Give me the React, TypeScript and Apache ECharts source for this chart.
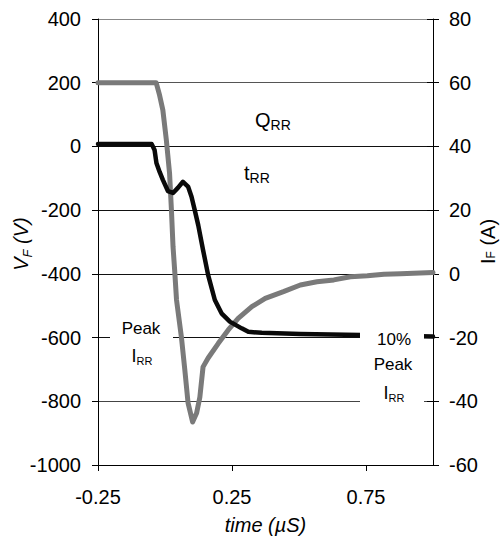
import React, { useEffect, useRef } from 'react';
import * as echarts from 'echarts';

const FONT = '"Liberation Sans", Arial, Helvetica, sans-serif';

// Voltage trace V_F (V) vs time (µS)
const timeV = [-0.25, -0.05, -0.039, -0.032, -0.02, -0.008, 0.011, 0.03, 0.048, 0.067, 0.086, 0.099, 0.111, 0.124, 0.142, 0.161, 0.186, 0.211, 0.242, 0.286, 0.311, 0.361, 0.505, 0.73, 1.0];
const voltage = [8, 8, -11, -52, -80, -105, -140, -146, -130, -111, -126, -158, -200, -247, -325, -404, -482, -524, -550, -571, -582, -585, -589, -592, -597];

// Current trace I_F (A) vs time (µS)
const timeI = [-0.25, -0.033, -0.02, -0.008, 0.005, 0.017, 0.024, 0.03, 0.036, 0.043, 0.061, 0.074, 0.086, 0.103, 0.118, 0.13, 0.142, 0.161, 0.199, 0.236, 0.273, 0.324, 0.374, 0.442, 0.505, 0.567, 0.63, 0.692, 0.755, 0.817, 0.879, 1.0];
const current = [60, 60, 56, 51.4, 42, 31.6, 20, 8.5, 1.2, -8.2, -19.7, -30.2, -40.5, -46.5, -43.7, -38.7, -29.2, -26.4, -21.8, -17.6, -14, -10.3, -7.7, -5.6, -3.5, -2.5, -1.9, -0.9, -0.6, -0.1, 0, 0.4];

// Axis ticks
const xTicks = [-0.25, 0.25, 0.75];
const xRange = [-0.25, 1.0];
const vRange = [-1000, 400];
const vStep = 200;
const iRange = [-60, 80];
const iStep = 20;

export default function App() {
  const ref = useRef<HTMLDivElement>(null);

  useEffect(() => {
    if (!ref.current) return;
    const chart = echarts.init(ref.current, null, { renderer: 'svg' });
    const ctx = document.createElement('canvas').getContext('2d') as CanvasRenderingContext2D;
    const measure = (t: string, size: number, italic = false) => {
      ctx.font = `${italic ? 'italic ' : ''}${size}px ${FONT}`;
      return ctx.measureText(t).width;
    };

    const txt = (text: string, x: number, y: number, size: number, italic = false, align = 'left') => ({
      type: 'text',
      x,
      y,
      z: 101,
      zlevel: 0,
      style: {
        text,
        fontSize: size,
        fontFamily: FONT,
        fontStyle: italic ? 'italic' : 'normal',
        fill: '#000',
        align,
        verticalAlign: 'middle',
        textAlign: align,
        textVerticalAlign: 'middle',
      },
    });

    const subLabel = (
      main: string, sub: string, rest: string, cx: number, cy: number,
      mainSize: number, subSize: number, subDy: number, italic: boolean, rotated: boolean
    ) => {
      const w1 = measure(main, mainSize, italic);
      const w2 = measure(sub, subSize, italic);
      const w3 = rest ? measure(rest, mainSize, italic) : 0;
      const start = -(w1 + w2 + w3) / 2;
      const children: any[] = [
        txt(main, start, 0, mainSize, italic),
        txt(sub, start + w1, subDy, subSize, italic),
      ];
      if (rest) children.push(txt(rest, start + w1 + w2, 0, mainSize, italic));
      return { type: 'group', x: cx, y: cy, rotation: rotated ? Math.PI / 2 : 0, z: 101, children };
    };

    const vData = timeV.map((t, i) => [t, voltage[i]]);
    const iData = timeI.map((t, i) => [t, current[i]]);

    const gridRect = { left: 98, right: 67, top: 19, bottom: 83 };

    const option: any = {
      animation: false,
      backgroundColor: '#ffffff',
      textStyle: { fontFamily: FONT },
      grid: [
        { ...gridRect },
        { ...gridRect },
      ],
      xAxis: [
        {
          type: 'value',
          gridIndex: 0,
          min: xRange[0],
          max: xRange[1],
          interval: 0.5,
          axisLine: { show: true, onZero: false, lineStyle: { color: '#000', width: 1 } },
          axisTick: { show: true, inside: false, length: 6, customValues: xTicks, lineStyle: { color: '#000' } },
          axisLabel: {
            customValues: xTicks,
            fontSize: 20,
            color: '#000',
            margin: 22,
            formatter: (v: number) => (v > 0.9 ? '' : v.toFixed(2)),
          },
          splitLine: { show: false },
        },
        { type: 'value', gridIndex: 1, min: xRange[0], max: xRange[1], show: false },
      ],
      yAxis: [
        {
          type: 'value',
          gridIndex: 0,
          position: 'left',
          min: vRange[0],
          max: vRange[1],
          interval: vStep,
          axisLine: { show: true, onZero: false, lineStyle: { color: '#000', width: 1 } },
          axisTick: { show: true, inside: false, length: 6, lineStyle: { color: '#000' } },
          axisLabel: { fontSize: 20, color: '#000', margin: 17, formatter: (v: number) => String(v) },
          splitLine: {
            show: true,
            lineStyle: { color: ['#000', '#444', '#111', '#111', '#111', '#111', '#555', '#888'], width: 1 },
          },
        },
        {
          type: 'value',
          gridIndex: 0,
          position: 'right',
          min: iRange[0],
          max: iRange[1],
          interval: iStep,
          axisLine: { show: true, onZero: false, lineStyle: { color: '#000', width: 1 } },
          axisTick: { show: true, inside: false, length: 6, lineStyle: { color: '#000' } },
          axisLabel: { fontSize: 20, color: '#000', margin: 16, formatter: (v: number) => String(v) },
          splitLine: { show: false },
        },
        {
          type: 'value',
          gridIndex: 1,
          position: 'right',
          min: iRange[0],
          max: iRange[1],
          interval: iStep,
          axisLine: { show: false, onZero: false },
          axisTick: { show: true, inside: true, length: 6, lineStyle: { color: '#000' } },
          axisLabel: { show: false },
          splitLine: { show: false },
        },
      ],
      series: [
        {
          name: 'I_F',
          type: 'line',
          xAxisIndex: 0,
          yAxisIndex: 1,
          data: iData,
          symbol: 'none',
          lineStyle: { color: '#7a7a7a', width: 5, cap: 'round', join: 'round' },
          z: 3,
        },
        {
          name: 'V_F',
          type: 'line',
          xAxisIndex: 0,
          yAxisIndex: 0,
          data: vData,
          symbol: 'none',
          lineStyle: { color: '#0a0a0a', width: 4.5, cap: 'round', join: 'round' },
          z: 4,
        },
      ],
      graphic: {
        elements: [
          { type: 'rect', shape: { x: 110, y: 314, width: 63, height: 58 }, style: { fill: '#fff' }, z: 100 },
          { type: 'rect', shape: { x: 360, y: 322, width: 64, height: 88 }, style: { fill: '#fff' }, z: 100 },
          txt('Q', 255, 120, 20),
          txt('RR', 255 + measure('Q', 20), 125, 14),
          txt('t', 244, 173, 20),
          txt('RR', 244 + measure('t', 20), 178, 14),
          txt('Peak', 141, 328, 17, false, 'center'),
          subLabel('I', 'RR', '', 142, 356, 18, 11, 4.5, false, false),
          txt('10%', 394, 339, 17, false, 'center'),
          txt('Peak', 393, 364, 17, false, 'center'),
          subLabel('I', 'RR', '', 394, 393, 18, 11, 5, false, false),
          subLabel('V', 'F', ' (V)', 20.5, 244, 20, 13, 7, true, true),
          subLabel('I', 'F', ' (A)', 487.5, 241.5, 20, 12, 3.5, false, true),
          txt('time (µS)', 265.5, 525, 20, true, 'center'),
        ],
      },
    };

    chart.setOption(option);
    return () => chart.dispose();
  }, []);

  return (
    <div
      ref={ref}
      style={{ position: 'fixed', left: 0, top: 0, width: 500, height: 548, background: '#fff' }}
    />
  );
}
